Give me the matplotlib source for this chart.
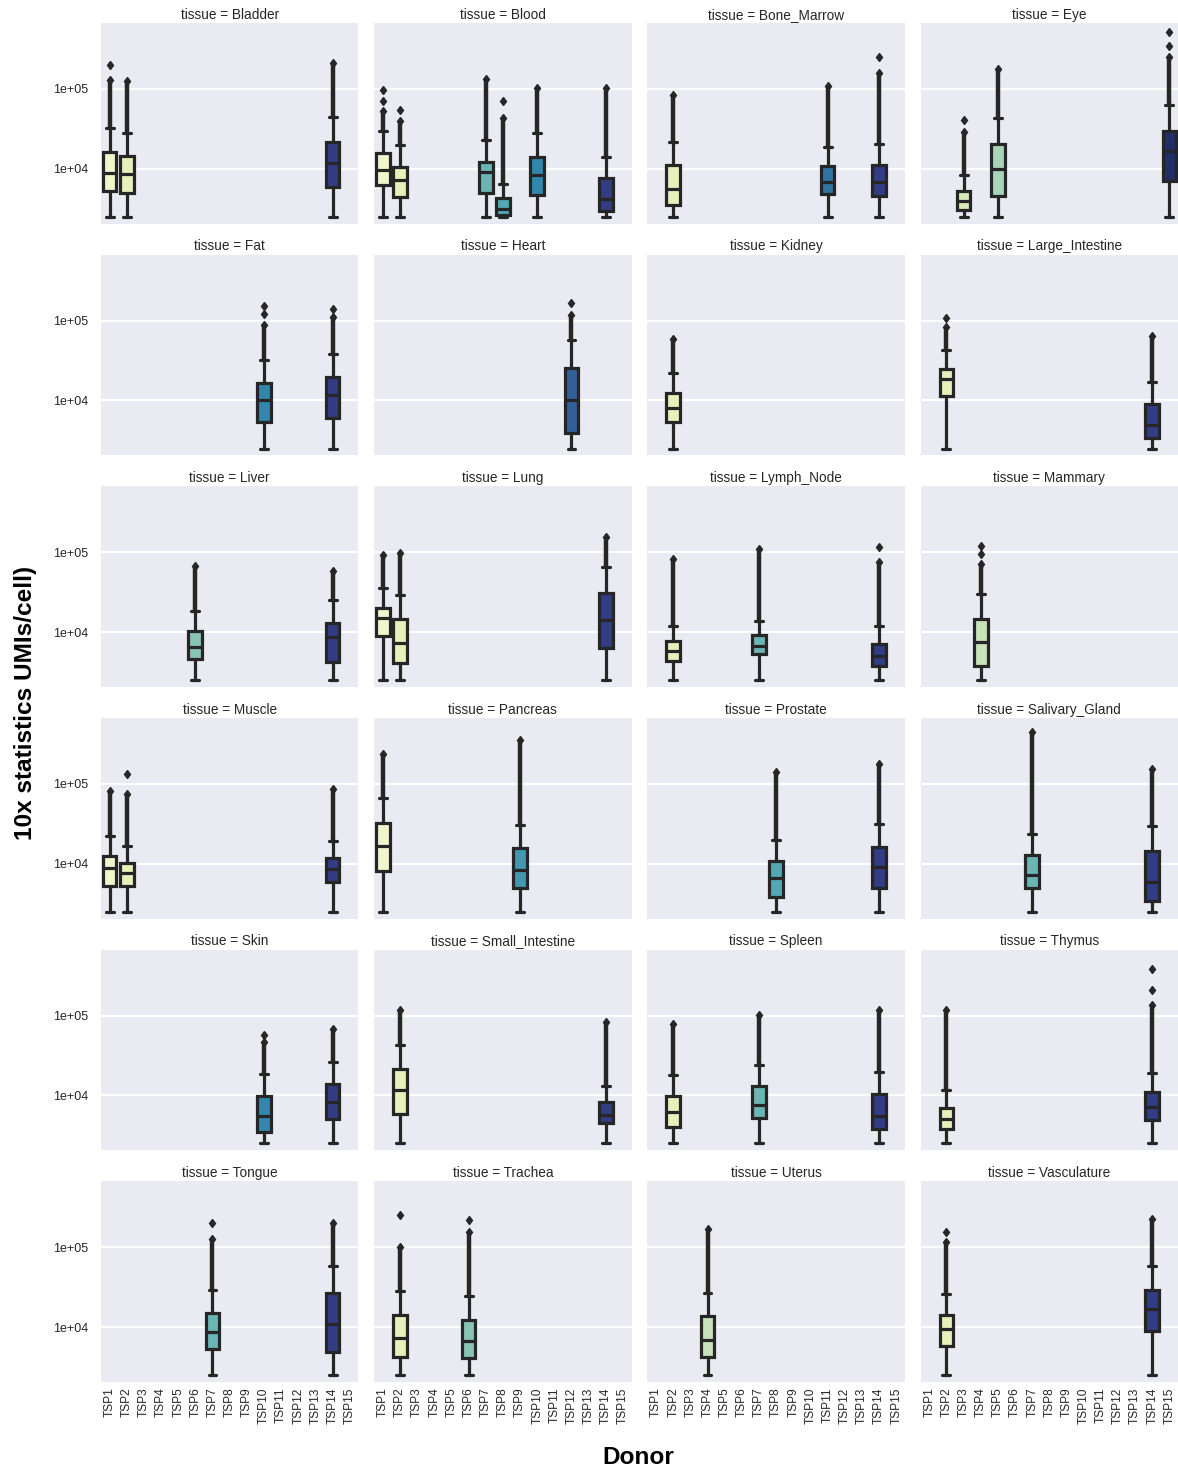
import matplotlib
matplotlib.use("Agg")
import matplotlib.pyplot as plt
from matplotlib.ticker import FixedLocator, FuncFormatter, NullLocator
import seaborn as sns

# ---------------- data ----------------
tissues = ["Bladder", "Blood", "Bone_Marrow", "Eye",
           "Fat", "Heart", "Kidney", "Large_Intestine",
           "Liver", "Lung", "Lymph_Node", "Mammary",
           "Muscle", "Pancreas", "Prostate", "Salivary_Gland",
           "Skin", "Small_Intestine", "Spleen", "Thymus",
           "Tongue", "Trachea", "Uterus", "Vasculature"]

donors = ["TSP1", "TSP2", "TSP3", "TSP4", "TSP5", "TSP6", "TSP7", "TSP8",
          "TSP9", "TSP10", "TSP11", "TSP12", "TSP13", "TSP14", "TSP15"]

umi_min = 2500  # lower whisker (minimum UMIs/cell)

box_tissue = ["Bladder", "Bladder", "Bladder",
              "Blood", "Blood", "Blood", "Blood", "Blood", "Blood",
              "Bone_Marrow", "Bone_Marrow", "Bone_Marrow",
              "Eye", "Eye", "Eye",
              "Fat", "Fat", "Heart", "Kidney",
              "Large_Intestine", "Large_Intestine",
              "Liver", "Liver",
              "Lung", "Lung", "Lung",
              "Lymph_Node", "Lymph_Node", "Lymph_Node",
              "Mammary",
              "Muscle", "Muscle", "Muscle",
              "Pancreas", "Pancreas",
              "Prostate", "Prostate",
              "Salivary_Gland", "Salivary_Gland",
              "Skin", "Skin",
              "Small_Intestine", "Small_Intestine",
              "Spleen", "Spleen", "Spleen",
              "Thymus", "Thymus",
              "Tongue", "Tongue",
              "Trachea", "Trachea",
              "Uterus",
              "Vasculature", "Vasculature"]

box_donor = ["TSP1", "TSP2", "TSP14",
             "TSP1", "TSP2", "TSP7", "TSP8", "TSP10", "TSP14",
             "TSP2", "TSP11", "TSP14",
             "TSP3", "TSP5", "TSP15",
             "TSP10", "TSP14", "TSP12", "TSP2",
             "TSP2", "TSP14",
             "TSP6", "TSP14",
             "TSP1", "TSP2", "TSP14",
             "TSP2", "TSP7", "TSP14",
             "TSP4",
             "TSP1", "TSP2", "TSP14",
             "TSP1", "TSP9",
             "TSP8", "TSP14",
             "TSP7", "TSP14",
             "TSP10", "TSP14",
             "TSP2", "TSP14",
             "TSP2", "TSP7", "TSP14",
             "TSP2", "TSP14",
             "TSP7", "TSP14",
             "TSP2", "TSP6",
             "TSP4",
             "TSP2", "TSP14"]

box_q1 = [5300, 5000, 5960,
          6330, 4420, 4970, 2630, 4640, 2970,
          3480, 4830, 4600,
          3020, 4600, 7080,
          5420, 6100, 3860, 5310,
          11450, 3430,
          4600, 4250,
          8810, 4050, 6380,
          4330, 5260, 3750,
          3750,
          5260, 5260, 5970,
          8150, 4910,
          3810, 4910,
          4910, 3400,
          3500, 5010,
          5800, 4550,
          3970, 5160, 3780,
          3780, 4910,
          5260, 4910,
          4250, 4050,
          4170,
          5800, 8810]

box_med = [8900, 8650, 11900,
           9640, 7180, 8990, 3160, 8320, 4130,
           5570, 6740, 6880,
           3950, 9900, 16800,
           10200, 11800, 10200, 7990,
           18300, 4910,
           6590, 8630,
           15000, 7240, 14300,
           5860, 6700, 5010,
           7600,
           8810, 7600, 8630,
           16600, 8400,
           6590, 8990,
           7240, 5970,
           5530, 8150,
           11800, 5690,
           6150, 7600, 5530,
           5010, 7120,
           8630, 10900,
           7390, 6700,
           6900,
           9530, 16900]

box_q3 = [16300, 14500, 21800,
          15900, 10600, 12270, 4290, 14200, 7760,
          11000, 10900, 11200,
          5310, 20500, 29900,
          16400, 19700, 25700, 12300,
          24900, 9070,
          10200, 13000,
          20300, 14600, 31200,
          7830, 9070, 7180,
          14600,
          12400, 10200, 11800,
          32700, 15800,
          10700, 16100,
          12700, 14300,
          9710, 13900,
          21600, 8220,
          9710, 13000, 10500,
          7040, 10900,
          15000, 26900,
          14300, 12400,
          13600,
          14300, 29100]

box_whishi = [32500, 28200, 44700,
              29500, 19600, 23100, 6400, 28000, 14200,
              21600, 19000, 20400,
              8410, 43800, 62500,
              31800, 38700, 57000, 21800,
              42500, 16900,
              18300, 25200,
              36100, 29100, 65900,
              12000, 13900, 11800,
              29700,
              22200, 16900, 19200,
              66700, 30300,
              20100, 31200,
              23300, 29700,
              18600, 25900,
              43000, 13000,
              17900, 24000, 19700,
              11550, 19200,
              28800, 58700,
              28200, 24500,
              26900,
              25900, 58700]

# upper end of the dense run of outliers
flier_top = [129000, 126000, 211000,
             52700, 39400, 133000, 43400, 104000, 104000,
             84100, 109000, 160000,
             29300, 176000, 253000,
             89000, 110000, 116000, 58700,
             82400, 64700,
             66700, 58700,
             92800, 98300, 155000,
             82400, 110000, 74800,
             71200,
             82400, 74800, 86600,
             240000, 355000,
             141000, 179000,
             452000, 155000,
             46000, 67800,
             119000, 84100,
             78500, 102000, 117000,
             116000, 137000,
             128000, 202000,
             102000, 155000,
             171000,
             116000, 223000]

# isolated outliers above the dense run
flier_extra = [[200000], [], [],
               [70800, 95900], [53900], [], [70800], [], [],
               [], [], [253000],
               [41000], [], [345000, 511000],
               [122000, 151000], [141000], [168000], [],
               [107000], [],
               [], [],
               [], [], [],
               [], [], [116000],
               [95500, 119000],
               [], [134000], [],
               [], [],
               [], [],
               [], [],
               [57000], [],
               [], [],
               [], [], [],
               [], [208000, 387000],
               [202000], [],
               [252000], [218000],
               [],
               [155000], []]

# ---------------- style ----------------
sns.set_style("darkgrid")
plt.rcParams["font.family"] = ["Liberation Sans", "DejaVu Sans"]
plt.rcParams["axes.facecolor"] = "#EAEAF2"

pal = [sns.desaturate(c, 0.75) for c in sns.color_palette("YlGnBu", len(donors))]
dark = "#262626"

fig, axes = plt.subplots(6, 4, figsize=(11.78, 14.72), dpi=100, sharex=True, sharey=True)
fig.subplots_adjust(left=101 / 1178, right=1.0, top=1 - 23 / 1472, bottom=1 - 1382 / 1472,
                    wspace=0.062, hspace=0.154)

lw = 2.3
for ti, tissue in enumerate(tissues):
    ax = axes.flat[ti]
    idx = [i for i, t in enumerate(box_tissue) if t == tissue]
    stats, pos, cols = [], [], []
    for i in idx:
        d = donors.index(box_donor[i])
        stats.append(dict(med=box_med[i], q1=box_q1[i], q3=box_q3[i],
                          whislo=umi_min, whishi=box_whishi[i],
                          fliers=[flier_top[i]] + flier_extra[i]))
        pos.append(d)
        cols.append(pal[d])
    # dense run of outliers
    ax.vlines(pos, [box_whishi[i] for i in idx], [flier_top[i] for i in idx],
              color=dark, lw=3.2, zorder=2)
    bp = ax.bxp(stats, positions=pos, widths=0.8, capwidths=0.46, patch_artist=True,
                showfliers=True,
                boxprops=dict(edgecolor=dark, linewidth=lw),
                medianprops=dict(color=dark, linewidth=lw),
                whiskerprops=dict(color=dark, linewidth=lw),
                capprops=dict(color=dark, linewidth=lw),
                flierprops=dict(marker="d", markersize=4.5, markerfacecolor=dark,
                                markeredgecolor=dark, linestyle="none"),
                manage_ticks=False)
    for patch, c in zip(bp["boxes"], cols):
        patch.set_facecolor(c)
    ax.set_yscale("log")
    ax.set_ylim(2050, 6.7e5)
    ax.set_xlim(-0.5, len(donors) - 0.5)
    ax.yaxis.set_major_locator(FixedLocator([1e4, 1e5]))
    ax.yaxis.set_minor_locator(NullLocator())
    ax.yaxis.set_major_formatter(FuncFormatter(lambda v, p: f"{v:.0e}"))
    ax.set_xticks(range(len(donors)))
    ax.set_xticklabels(donors, rotation=90)
    ax.grid(axis="x", visible=False)
    ax.grid(axis="y", color="white", linewidth=1.4)
    ax.set_axisbelow(True)
    ax.tick_params(axis="y", length=0, pad=9, labelsize=9, labelcolor=dark)
    ax.tick_params(axis="x", length=0, pad=4, labelsize=8.6, labelcolor=dark)
    ax.set_title(f"tissue = {tissue}", fontsize=9.8, color=dark, pad=3)
    for s in ax.spines.values():
        s.set_visible(False)

fig.text(26 / 1178, 1 - 703 / 1472, "10x statistics UMIs/cell)", rotation=90,
         fontsize=17.6, fontweight="bold", ha="center", va="center", color="black")
fig.text(638 / 1178, 1 - 1457 / 1472, "Donor", fontsize=17.6, fontweight="bold",
         ha="center", va="center", color="black")

fig.savefig("out.png", dpi=100)
